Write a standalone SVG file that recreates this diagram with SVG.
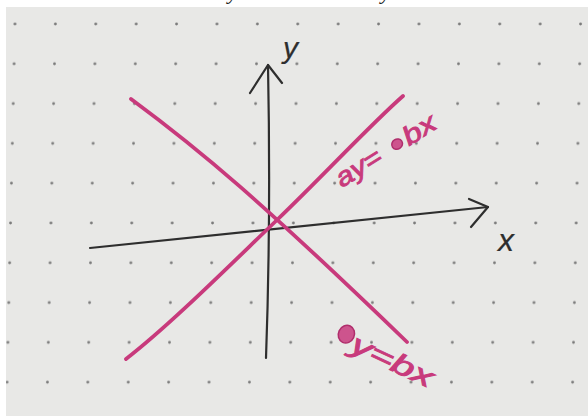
<svg xmlns="http://www.w3.org/2000/svg" width="588" height="416" viewBox="0 0 588 416">
<defs>
<pattern id="dots" patternUnits="userSpaceOnUse" x="-4.7" y="4.1" width="40.4" height="39.8" patternTransform="skewX(-1.27)">
<circle cx="20.2" cy="19.9" r="1.4" fill="#7a7a7a"/>
</pattern>
<style>
.ax{fill:none;stroke:#2e2e2e;stroke-width:2.2;stroke-linecap:round;stroke-linejoin:round}
.pk{fill:none;stroke:#c83a7c;stroke-width:3.8;stroke-linecap:round;stroke-linejoin:round}
.pt{font-family:"Liberation Sans",sans-serif;font-style:italic;fill:#c83a7c;stroke:#c83a7c;stroke-width:0.9}
.bt{font-family:"Liberation Sans",sans-serif;font-style:italic;fill:#2e2e2e;stroke:#2e2e2e;stroke-width:0.2}
.blob{fill:#c83a7c;fill-opacity:0.85;stroke:#b02e6c;stroke-width:1.5}
</style>
</defs>
<rect x="0" y="0" width="588" height="416" fill="#ffffff"/>
<rect x="6" y="7" width="582" height="409" fill="#e8e8e6"/>
<rect x="6" y="7" width="582" height="409" fill="url(#dots)"/>
<g id="top-fragments">
<text x="228" y="-1" font-family="Liberation Serif,serif" font-style="italic" font-size="22" fill="#222">y</text>
<text x="381" y="-1" font-family="Liberation Serif,serif" font-style="italic" font-size="22" fill="#222">y</text>
</g>
<g id="connectors">
<path id="x-axis" class="ax" d="M90,248 L488,207"/>
<path class="ax" d="M469,199 L488,207 L471,227"/>
<path id="y-axis" class="ax" d="M266,358 Q271,220 268,65"/>
<path class="ax" d="M250,93 L268,65 L282,83"/>
<path id="line-neg" class="pk" d="M131,99 C200,150 260,200 407,342"/>
<path id="line-pos" class="pk" d="M126,359 C170,325 230,265 277,220 S370,125 403,96"/>
</g>
<g id="label-y">
<text class="bt" x="283" y="58" font-size="30">y</text>
</g>
<g id="label-x">
<text class="bt" x="498" y="251" font-size="32">x</text>
</g>
<g id="label-pos" transform="translate(342,188) rotate(-32)">
<text class="pt" x="0" y="0" font-size="26" textLength="50" lengthAdjust="spacingAndGlyphs">ay=</text>
<ellipse class="blob" cx="70" cy="-8" rx="5.5" ry="5"/>
<text class="pt" x="79" y="0" font-size="26" textLength="35" lengthAdjust="spacingAndGlyphs">bx</text>
</g>
<g id="label-neg" transform="translate(345,349) rotate(25)">
<ellipse class="blob" cx="-5" cy="-14" rx="8" ry="9"/>
<text class="pt" x="4" y="0" font-size="28" textLength="88" lengthAdjust="spacingAndGlyphs">y=bx</text>
</g>
</svg>
